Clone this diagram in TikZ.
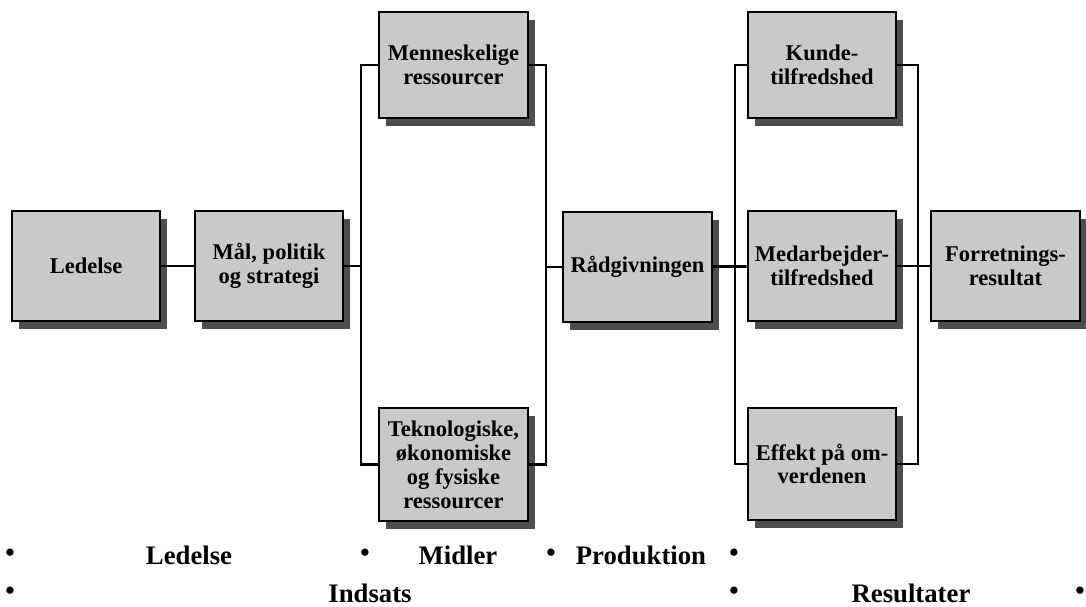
\documentclass[tikz,border=0pt]{standalone}
\usepackage{fontspec}
\setmainfont{Liberation Serif}
\usetikzlibrary{shadows}
\definecolor{boxgray}{HTML}{C9C9C9}
\definecolor{shadegray}{HTML}{4E4E4E}
\tikzset{
  boks/.style={draw=black, line width=1.5pt, fill=boxgray, align=center,
    inner sep=0pt, minimum width=3.72cm, minimum height=2.75cm,
    font=\fontsize{16}{17}\selectfont\bfseries,
    drop shadow={shadow xshift=5pt, shadow yshift=-5.5pt, fill=shadegray, opacity=1}},
  lav/.style={boks, minimum height=2.65cm},
  linje/.style={line width=2pt},
  fase/.style={font=\fontsize{19}{21}\selectfont\bfseries, inner sep=0pt}
}
\begin{document}
\begin{tikzpicture}[x=0.025cm, y=-0.025cm]
  \useasboundingbox (0,0) rectangle (1086,606);
  % Kasser
  \node[boks] (led) at (86,266) {Ledelse};
  \node[boks] (maal) at (269,266) {Mål, politik\\og strategi};
  \node[lav] (menn) at (453.5,65) {Menneskelige\\ressourcer};
  \node[boks, minimum height=2.83cm] (tekn) at (453.5,464.5) {Teknologiske,\\økonomiske\\og fysiske\\ressourcer};
  \node[boks] (raad) at (637.5,267) {Rådgivningen};
  \node[lav] (kunde) at (822,65) {Kunde-\\tilfredshed};
  \node[boks] (medarb) at (822,266) {Medarbejder-\\tilfredshed};
  \node[boks, minimum height=2.8cm] (effekt) at (822,464) {Effekt på om-\\verdenen};
  \node[boks] (forr) at (1005.5,266) {Forretnings-\\resultat};
  % Samleskinner
  \coordinate (busA) at (361,0);
  \coordinate (busB) at (546,0);
  \coordinate (busC) at (735,0);
  \coordinate (busD) at (918,0);
  % Forbindelser
  \draw[linje] (led) -- (maal);
  \draw[linje] (maal.east) -- (maal.east -| busA);
  \draw[linje] (menn.west) -- (menn.west -| busA) -- (tekn.west -| busA) -- (tekn.west);
  \draw[linje] (menn.east) -- (menn.east -| busB) -- (tekn.east -| busB) -- (tekn.east);
  \draw[linje] (raad.west -| busB) -- (raad.west);
  \draw[linje] (raad) -- (medarb);
  \draw[linje] (kunde.west) -- (kunde.west -| busC) -- (effekt.west -| busC) -- (effekt.west);
  \draw[linje] (kunde.east) -- (kunde.east -| busD) -- (effekt.east -| busD) -- (effekt.east);
  \draw[linje] (medarb) -- (forr);
  % Faser
  \node[fase] (p1) at (10,555) {\textbullet};
  \node[fase] (t1) at (189,555) {Ledelse};
  \node[fase] (p2) at (365,555) {\textbullet};
  \node[fase] (t2) at (458,555) {Midler};
  \node[fase] (p3) at (551,555) {\textbullet};
  \node[fase] (t3) at (641,555) {Produktion};
  \node[fase] (p4) at (734,555) {\textbullet};
  \node[fase] (p5) at (10,593) {\textbullet};
  \node[fase] (t4) at (370,593) {Indsats};
  \node[fase] (p6) at (734,593) {\textbullet};
  \node[fase] (t5) at (911,593) {Resultater};
  \node[fase] (p7) at (1080,593) {\textbullet};
\end{tikzpicture}
\end{document}
